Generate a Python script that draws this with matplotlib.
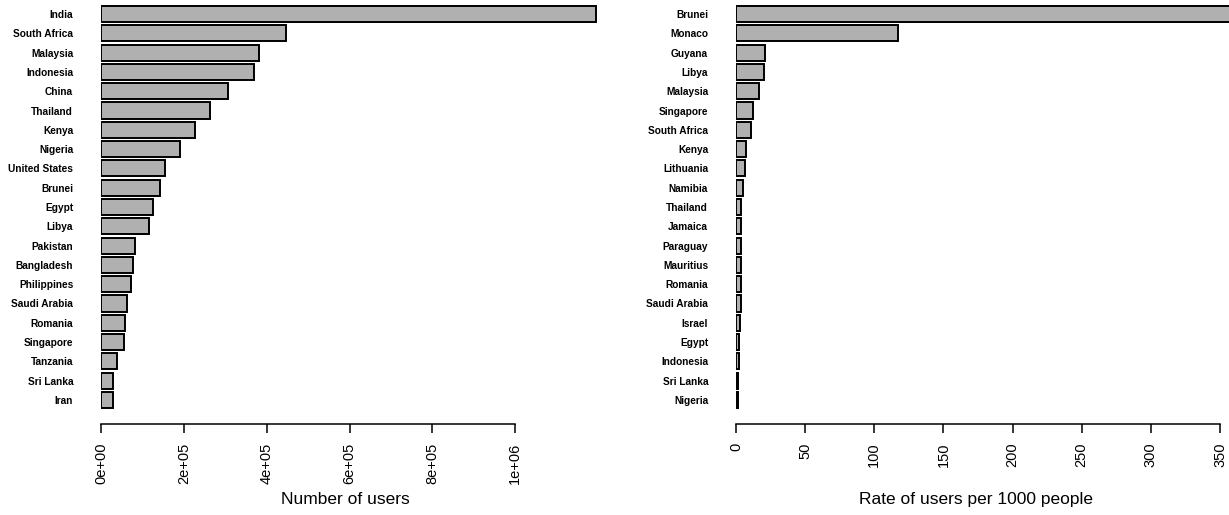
import matplotlib
matplotlib.use("Agg")
import matplotlib.pyplot as plt

# Total users by country
users_countries = ["India", "South Africa", "Malaysia", "Indonesia", "China", "Thailand",
                   "Kenya", "Nigeria", "United States", "Brunei", "Egypt", "Libya",
                   "Pakistan", "Bangladesh", "Philippines", "Saudi Arabia", "Romania",
                   "Singapore", "Tanzania", "Sri Lanka", "Iran"]
users_values = [1195000, 447000, 382000, 370000, 306000, 263000, 227000, 191000,
                155000, 143000, 125000, 117000, 82000, 78000, 72000, 63000, 59000,
                56000, 39000, 29000, 28000]

# Users per 1000 people by country
rate_countries = ["Brunei", "Monaco", "Guyana", "Libya", "Malaysia", "Singapore",
                  "South Africa", "Kenya", "Lithuania", "Namibia", "Thailand", "Jamaica",
                  "Paraguay", "Mauritius", "Romania", "Saudi Arabia", "Israel", "Egypt",
                  "Indonesia", "Sri Lanka", "Nigeria"]
rate_values = [372, 117, 21, 20, 16.4, 12, 10.8, 7.2, 6.8, 4.9, 3.7, 3.6, 3.5, 3.5,
               3.4, 3.3, 2.6, 2.2, 2.0, 1.2, 1.4]

users_ticks = [0, 200000, 400000, 600000, 800000, 1000000]
users_ticklabels = ["0e+00", "2e+05", "4e+05", "6e+05", "8e+05", "1e+06"]
rate_ticks = [0, 50, 100, 150, 200, 250, 300, 350]

W, H = 1229, 515
fig = plt.figure(figsize=(W / 100, H / 100), dpi=100)

label_font = dict(family=["Liberation Sans Narrow", "Liberation Sans", "DejaVu Sans"],
                  weight="bold", size=7.3)
tick_font = dict(family=["Liberation Sans", "DejaVu Sans"], size=10.5)


def panel(left_px, right_px, names, values, xmax, ticks, ticklabels, bound, xlabel, lab_x):
    top_px, bottom_px = 0.5, 413.5
    ax = fig.add_axes([left_px / W, 1 - bottom_px / H,
                       (right_px - left_px) / W, (bottom_px - top_px) / H])
    n = len(names)
    pos = list(range(n - 1, -1, -1))
    ax.barh(pos, values, height=0.83, left=0, color="#b0b0b0",
            edgecolor="black", linewidth=1.4)
    ax.set_ylim(-0.7, n - 1 + 0.7)
    ax.set_xlim(0, xmax)
    ax.set_yticks(pos)
    ax.set_yticklabels(names, **label_font)
    ax.tick_params(axis="y", length=0, pad=20)
    for s in ("top", "right", "left"):
        ax.spines[s].set_visible(False)
    ax.spines["bottom"].set_position(("outward", 7.5))
    ax.spines["bottom"].set_bounds(0, bound)
    ax.spines["bottom"].set_linewidth(1.1)
    ax.set_xticks(ticks)
    ax.set_xticklabels(ticklabels, rotation=90, **tick_font)
    ax.tick_params(axis="x", length=6.5, width=1.1, pad=7)
    ax.set_xlabel(xlabel, family=["Liberation Sans", "DejaVu Sans"], size=12.5)
    ax.xaxis.set_label_coords(lab_x, -0.209)
    ax.xaxis.label.set_va("center")
    ax.patch.set_visible(False)
    return ax


panel(101, 598, users_countries, users_values, 1.2e6, users_ticks, users_ticklabels,
      1e6, "Number of users", 0.491)
panel(736, 1229, rate_countries, rate_values, 493 / 1.383, rate_ticks,
      [str(t) for t in rate_ticks], 350, "Rate of users per 1000 people", 0.487)

fig.savefig("out.png", dpi=100, facecolor="white")
